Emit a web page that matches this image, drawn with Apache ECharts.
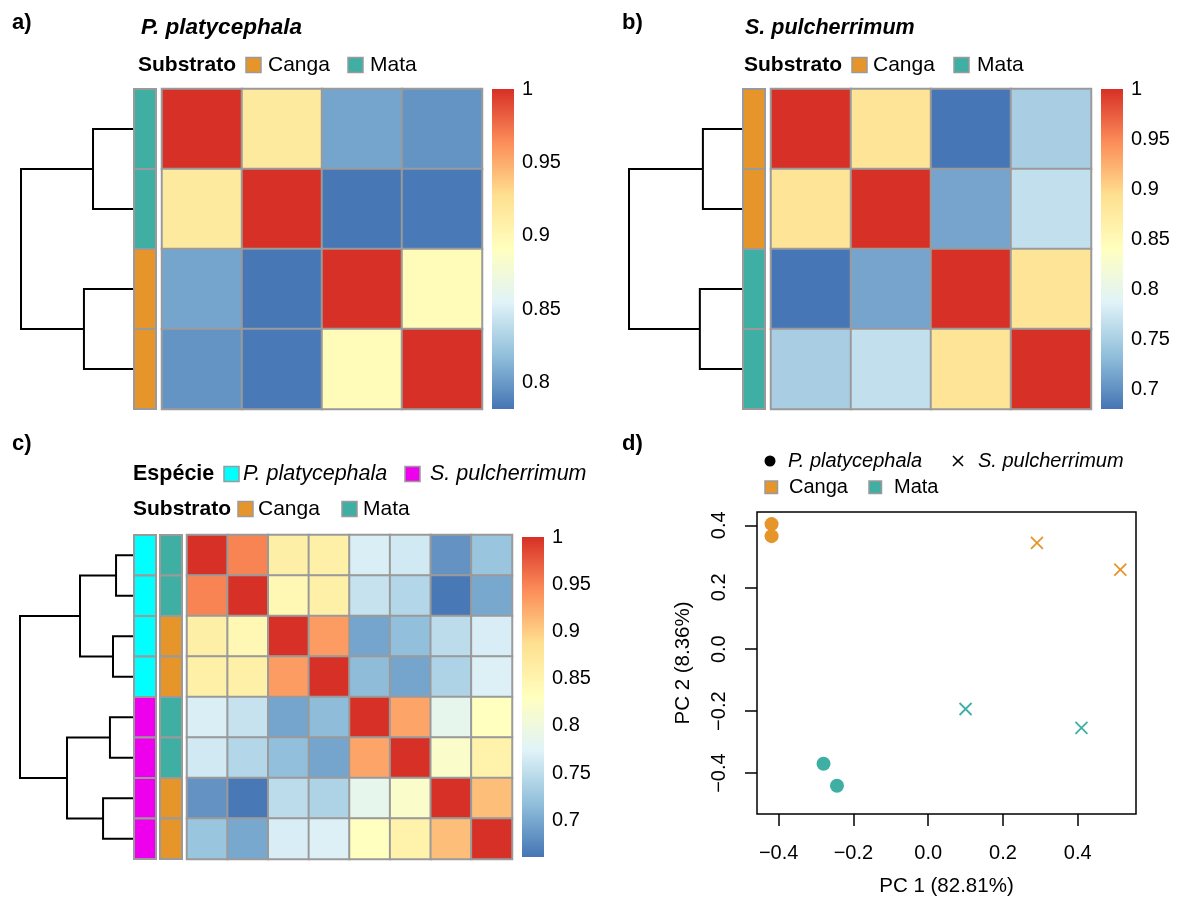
<!DOCTYPE html>
<html>
<head>
<meta charset="utf-8">
<script src="https://cdn.jsdelivr.net/npm/echarts@6/dist/echarts.min.js"></script>
<style>html,body{margin:0;padding:0;background:#fff}#c{width:1181px;height:902px}</style>
</head>
<body>
<div id="c"></div>
<script>
// ---------------- DATA ----------------
// Panel a: P. platycephala
const samplesA = ['PP_M1', 'PP_M2', 'PP_C1', 'PP_C2'];
const corrA = [
  [1.000, 0.916, 0.805, 0.797],
  [0.916, 1.000, 0.783, 0.784],
  [0.805, 0.783, 1.000, 0.896],
  [0.797, 0.784, 0.896, 1.000]
];
const substrateA = ['Mata', 'Mata', 'Canga', 'Canga'];
const dendroA = [[-1, -2, 0.357], [-3, -4, 0.438], [1, 2, 1.0]];
const scaleA = [0.782, 1.0];
const ticksA = [0.8, 0.85, 0.9, 0.95, 1];

// Panel b: S. pulcherrimum
const samplesB = ['SP_C1', 'SP_C2', 'SP_M1', 'SP_M2'];
const corrB = [
  [1.000, 0.887, 0.682, 0.750],
  [0.887, 1.000, 0.715, 0.767],
  [0.682, 0.715, 1.000, 0.886],
  [0.750, 0.767, 0.886, 1.000]
];
const substrateB = ['Canga', 'Canga', 'Mata', 'Mata'];
const dendroB = [[-1, -2, 0.346], [-3, -4, 0.373], [1, 2, 1.0]];
const scaleB = [0.681, 1.0];
const ticksB = [0.7, 0.75, 0.8, 0.85, 0.9, 0.95, 1];

// Panel c: both species
const samplesC = ['PP_M1', 'PP_M2', 'PP_C1', 'PP_C2', 'SP_M1', 'SP_M2', 'SP_C1', 'SP_C2'];
const corrC = [
  [1.000, 0.949, 0.860, 0.858, 0.769, 0.763, 0.683, 0.724],
  [0.949, 1.000, 0.844, 0.858, 0.755, 0.742, 0.663, 0.700],
  [0.860, 0.844, 1.000, 0.934, 0.697, 0.718, 0.748, 0.768],
  [0.858, 0.858, 0.934, 1.000, 0.715, 0.697, 0.738, 0.771],
  [0.769, 0.755, 0.697, 0.715, 1.000, 0.927, 0.786, 0.830],
  [0.763, 0.742, 0.718, 0.697, 0.927, 1.000, 0.821, 0.854],
  [0.683, 0.663, 0.748, 0.738, 0.786, 0.821, 1.000, 0.910],
  [0.724, 0.700, 0.768, 0.771, 0.830, 0.854, 0.910, 1.000]
];
const speciesC = ['P. platycephala', 'P. platycephala', 'P. platycephala', 'P. platycephala',
                  'S. pulcherrimum', 'S. pulcherrimum', 'S. pulcherrimum', 'S. pulcherrimum'];
const substrateC = ['Mata', 'Mata', 'Canga', 'Canga', 'Mata', 'Mata', 'Canga', 'Canga'];
const dendroC = [[-1, -2, 0.150], [-3, -4, 0.177], [-5, -6, 0.204], [-7, -8, 0.265],
                 [1, 2, 0.469], [3, 4, 0.584], [5, 6, 1.0]];
const scaleC = [0.661, 1.0];
const ticksC = [0.7, 0.75, 0.8, 0.85, 0.9, 0.95, 1];

// Panel d: PCA
const pc1 = [-0.419, -0.419, -0.280, -0.244, 0.291, 0.514, 0.100, 0.410];
const pc2 = [0.404, 0.365, -0.370, -0.441, 0.343, 0.257, -0.193, -0.254];
const speciesD = ['P. platycephala', 'P. platycephala', 'P. platycephala', 'P. platycephala',
                  'S. pulcherrimum', 'S. pulcherrimum', 'S. pulcherrimum', 'S. pulcherrimum'];
const substrateD = ['Canga', 'Canga', 'Mata', 'Mata', 'Canga', 'Canga', 'Mata', 'Mata'];
const pcTicksX = [-0.4, -0.2, 0.0, 0.2, 0.4];
const pcTicksY = [-0.4, -0.2, 0.0, 0.2, 0.4];
const pcRangeX = [-0.458, 0.556];
const pcRangeY = [-0.532, 0.443];

// ---------------- STYLE ----------------
const FONT = '"Liberation Sans", Arial, Helvetica, sans-serif';
const PALETTE = ['#4575B4', '#91BFDB', '#E0F3F8', '#FFFFBF', '#FEE090', '#FC8D59', '#D73027'];
const SUBSTRATE_COLORS = { 'Canga': '#E6952A', 'Mata': '#3FAFA3' };
const SPECIES_COLORS = { 'P. platycephala': '#00FFFF', 'S. pulcherrimum': '#EE00EE' };
const BORDER = '#9A9A9A';

const grids = [], xAxes = [], yAxes = [], series = [], visualMaps = [];

function addGrid(left, top, width, height) {
  grids.push({ left, top, width, height, containLabel: false });
  return grids.length - 1;
}

function heatPanel(samples, corr, range, pos) {
  const gi = addGrid(pos.left, pos.top, pos.width, pos.height);
  xAxes.push({ type: 'category', gridIndex: gi, data: samples, show: false });
  yAxes.push({ type: 'category', gridIndex: gi, data: samples, inverse: true, show: false });
  const data = [];
  for (let i = 0; i < corr.length; i++)
    for (let j = 0; j < corr[i].length; j++) data.push([j, i, corr[i][j]]);
  series.push({
    type: 'heatmap', xAxisIndex: xAxes.length - 1, yAxisIndex: yAxes.length - 1, data,
    itemStyle: { borderColor: BORDER, borderWidth: 2 }, emphasis: { disabled: true }
  });
  visualMaps.push({
    type: 'continuous', show: false, min: range[0], max: range[1], dimension: 2,
    seriesIndex: series.length - 1, inRange: { color: PALETTE }
  });
}

function annotPanel(labels, colorMap, pos) {
  const gi = addGrid(pos.left, pos.top, pos.width, pos.height);
  xAxes.push({ type: 'category', gridIndex: gi, data: ['a'], show: false });
  yAxes.push({ type: 'category', gridIndex: gi, data: labels.map((l, i) => i), inverse: true, show: false });
  series.push({
    type: 'custom', xAxisIndex: xAxes.length - 1, yAxisIndex: yAxes.length - 1,
    data: labels.map((l, i) => [0, i, l]),
    renderItem: function (params, api) {
      const c = api.coord([api.value(0), api.value(1)]);
      const sz = api.size([1, 1]);
      const lab = labels[params.dataIndex];
      return {
        type: 'rect',
        shape: { x: c[0] - sz[0] / 2, y: c[1] - sz[1] / 2, width: sz[0], height: sz[1] },
        style: { fill: colorMap[lab], stroke: BORDER, lineWidth: 2 }
      };
    }
  });
}

function dendroPanel(merges, n, pos) {
  const gi = addGrid(pos.left, pos.top, pos.width, pos.height);
  xAxes.push({ type: 'value', gridIndex: gi, min: 0, max: 1, inverse: true, show: false });
  yAxes.push({ type: 'value', gridIndex: gi, min: -0.5, max: n - 0.5, inverse: true, show: false });
  const nodes = [];
  const lines = [];
  const getPos = c => c < 0 ? { x: 0, y: -c - 1 } : nodes[c - 1];
  merges.forEach(m => {
    const a = getPos(m[0]), b = getPos(m[1]), h = m[2];
    lines.push({ coords: [[a.x, a.y], [h, a.y], [h, b.y], [b.x, b.y]] });
    nodes.push({ x: h, y: (a.y + b.y) / 2 });
  });
  series.push({
    type: 'lines', coordinateSystem: 'cartesian2d', xAxisIndex: xAxes.length - 1,
    yAxisIndex: yAxes.length - 1, polyline: true, data: lines, silent: true,
    lineStyle: { color: '#000', width: 2, opacity: 1 }
  });
}

function colorbarPanel(range, ticks, pos) {
  const gi = addGrid(pos.left, pos.top, pos.width, pos.height);
  xAxes.push({ type: 'value', gridIndex: gi, min: 0, max: 1, show: false });
  yAxes.push({
    type: 'value', gridIndex: gi, min: range[0], max: range[1], position: 'right',
    axisLine: { show: false }, axisTick: { show: false }, splitLine: { show: false },
    axisLabel: {
      customValues: ticks, color: '#000', fontSize: 20, fontFamily: FONT, margin: 8,
      formatter: v => String(parseFloat((+v).toFixed(2)))
    }
  });
  series.push({
    type: 'custom', xAxisIndex: xAxes.length - 1, yAxisIndex: yAxes.length - 1,
    data: [[0, range[0], 1, range[1]]], silent: true,
    renderItem: function (params, api) {
      const p0 = api.coord([api.value(0), api.value(1)]);
      const p1 = api.coord([api.value(2), api.value(3)]);
      return {
        type: 'rect',
        shape: { x: p0[0], y: p1[1], width: p1[0] - p0[0], height: p0[1] - p1[1] },
        style: {
          fill: new echarts.graphic.LinearGradient(0, 1, 0, 0,
            PALETTE.map((c, i) => ({ offset: i / (PALETTE.length - 1), color: c })))
        }
      };
    }
  });
}

// ---- Panel a ----
heatPanel(samplesA, corrA, scaleA, { left: 162, top: 89, width: 320, height: 320 });
annotPanel(substrateA, SUBSTRATE_COLORS, { left: 134, top: 89, width: 22, height: 320 });
dendroPanel(dendroA, 4, { left: 21, top: 89, width: 112, height: 320 });
colorbarPanel(scaleA, ticksA, { left: 492, top: 89, width: 22, height: 320 });

// ---- Panel b ----
heatPanel(samplesB, corrB, scaleB, { left: 771, top: 89, width: 320, height: 320 });
annotPanel(substrateB, SUBSTRATE_COLORS, { left: 743, top: 89, width: 22, height: 320 });
dendroPanel(dendroB, 4, { left: 629, top: 89, width: 113, height: 320 });
colorbarPanel(scaleB, ticksB, { left: 1101, top: 89, width: 22, height: 320 });

// ---- Panel c ----
heatPanel(samplesC, corrC, scaleC, { left: 187, top: 535, width: 325, height: 324 });
annotPanel(speciesC, SPECIES_COLORS, { left: 134, top: 535, width: 22, height: 324 });
annotPanel(substrateC, SUBSTRATE_COLORS, { left: 160, top: 535, width: 22, height: 324 });
dendroPanel(dendroC, 8, { left: 20, top: 535, width: 113, height: 324 });
colorbarPanel(scaleC, ticksC, { left: 522, top: 537, width: 22, height: 320 });

// ---- Panel d ----
const gD = addGrid(757, 512, 379, 302);
grids[gD].show = true;
grids[gD].borderColor = '#000';
grids[gD].borderWidth = 1.5;
const minusFmt = v => (v < -1e-9 ? '\u2212' : '') + Math.abs(v).toFixed(1);
xAxes.push({
  type: 'value', gridIndex: gD, min: pcRangeX[0], max: pcRangeX[1],
  name: 'PC 1 (82.81%)', nameLocation: 'middle', nameGap: 62,
  nameTextStyle: { fontSize: 20.5, color: '#000', fontFamily: FONT },
  axisLine: { show: false, onZero: false }, splitLine: { show: false },
  axisTick: { customValues: pcTicksX, length: 12, lineStyle: { color: '#000', width: 1.5 } },
  axisLabel: { customValues: pcTicksX, formatter: minusFmt, fontSize: 20, color: '#000', fontFamily: FONT, margin: 29 }
});
yAxes.push({
  type: 'value', gridIndex: gD, min: pcRangeY[0], max: pcRangeY[1],
  name: 'PC 2 (8.36%)', nameLocation: 'middle', nameGap: 63,
  nameTextStyle: { fontSize: 20.5, color: '#000', fontFamily: FONT },
  axisLine: { show: false, onZero: false }, splitLine: { show: false },
  axisTick: { customValues: pcTicksY, length: 12, lineStyle: { color: '#000', width: 1.5 } },
  axisLabel: { customValues: pcTicksY, formatter: minusFmt, rotate: 90, fontSize: 20, color: '#000', fontFamily: FONT, margin: 28 }
});
const xiD = xAxes.length - 1, yiD = yAxes.length - 1;
const CROSS = 'path://M0,0L10,10M0,10L10,0';
['P. platycephala', 'S. pulcherrimum'].forEach(sp => {
  ['Canga', 'Mata'].forEach(sub => {
    const pts = [];
    for (let i = 0; i < pc1.length; i++)
      if (speciesD[i] === sp && substrateD[i] === sub) pts.push([pc1[i], pc2[i]]);
    const isCircle = sp === 'P. platycephala';
    series.push({
      type: 'scatter', xAxisIndex: xiD, yAxisIndex: yiD, data: pts,
      symbol: isCircle ? 'circle' : CROSS,
      symbolSize: isCircle ? 14 : 12,
      itemStyle: isCircle
        ? { color: SUBSTRATE_COLORS[sub], opacity: 1 }
        : { color: 'rgba(0,0,0,0)', borderColor: SUBSTRATE_COLORS[sub], borderWidth: 1.8, opacity: 1 },
      emphasis: { disabled: true }
    });
  });
});

// ---------------- GRAPHIC (titles, legends) ----------------
function txt(x, y, s, size, weight, style) {
  return {
    type: 'text', x, y,
    style: {
      text: s, fontSize: size, fontWeight: weight || 'normal', fontStyle: style || 'normal',
      fontFamily: FONT, fill: '#000', textAlign: 'left', textVerticalAlign: 'middle',
      align: 'left', verticalAlign: 'middle'
    }
  };
}
function box(x, y, w, h, fill) {
  return { type: 'rect', shape: { x, y, width: w, height: h }, style: { fill, stroke: BORDER, lineWidth: 1.5 } };
}
const graphics = [
  // panel letters
  txt(12, 23, 'a)', 22, 'bold'), txt(622, 23, 'b)', 22, 'bold'),
  txt(12, 444, 'c)', 22, 'bold'), txt(622, 444, 'd)', 22, 'bold'),
  // a
  txt(141, 28, 'P. platycephala', 22.5, 'bold', 'italic'),
  txt(138, 65.5, 'Substrato', 21, 'bold'),
  box(246, 57.5, 15, 15, SUBSTRATE_COLORS['Canga']), txt(268, 65.5, 'Canga', 21),
  box(348, 57.5, 15, 15, SUBSTRATE_COLORS['Mata']), txt(370, 65.5, 'Mata', 21),
  // b
  txt(745, 28, 'S. pulcherrimum', 21.5, 'bold', 'italic'),
  txt(744, 65.5, 'Substrato', 21, 'bold'),
  box(852, 57.5, 15, 15, SUBSTRATE_COLORS['Canga']), txt(873, 65.5, 'Canga', 21),
  box(954, 57.5, 15, 15, SUBSTRATE_COLORS['Mata']), txt(977, 65.5, 'Mata', 21),
  // c
  txt(133, 474, 'Espécie', 21.5, 'bold'),
  box(224, 466.5, 15, 15, SPECIES_COLORS['P. platycephala']), txt(243, 474, 'P. platycephala', 21.5, 'normal', 'italic'),
  box(405, 466.5, 15, 15, SPECIES_COLORS['S. pulcherrimum']), txt(430, 474, 'S. pulcherrimum', 21.5, 'normal', 'italic'),
  txt(133, 509, 'Substrato', 21, 'bold'),
  box(238, 501.5, 15, 15, SUBSTRATE_COLORS['Canga']), txt(258, 509, 'Canga', 21),
  box(342, 501.5, 15, 15, SUBSTRATE_COLORS['Mata']), txt(363, 509, 'Mata', 21),
  // d
  { type: 'circle', shape: { cx: 770, cy: 461, r: 5.5 }, style: { fill: '#000' } },
  txt(788, 461, 'P. platycephala', 20, 'normal', 'italic'),
  { type: 'line', shape: { x1: 953, y1: 456, x2: 963, y2: 466 }, style: { stroke: '#000', lineWidth: 1.6 } },
  { type: 'line', shape: { x1: 953, y1: 466, x2: 963, y2: 456 }, style: { stroke: '#000', lineWidth: 1.6 } },
  txt(978, 461, 'S. pulcherrimum', 20, 'normal', 'italic'),
  box(765, 481, 12.5, 12.5, SUBSTRATE_COLORS['Canga']), txt(789, 487.5, 'Canga', 20),
  box(869, 481, 12.5, 12.5, SUBSTRATE_COLORS['Mata']), txt(894, 487.5, 'Mata', 20)
];

const chart = echarts.init(document.getElementById('c'), null, { renderer: 'canvas' });
chart.setOption({
  animation: false,
  backgroundColor: '#fff',
  textStyle: { fontFamily: FONT },
  grid: grids, xAxis: xAxes, yAxis: yAxes,
  visualMap: visualMaps, series: series, graphic: graphics
});
</script>
</body>
</html>
